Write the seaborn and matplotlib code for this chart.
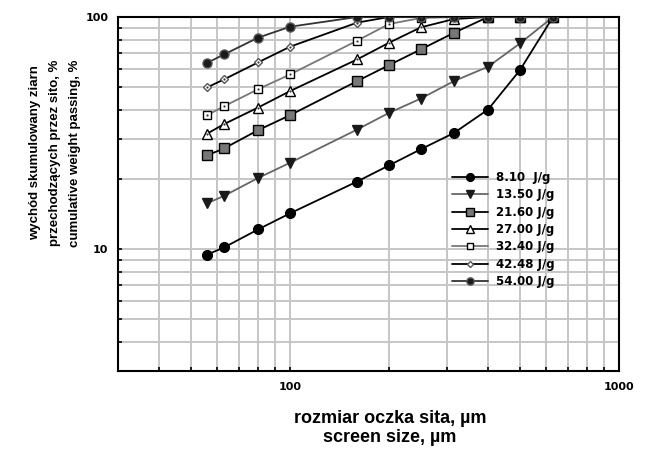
import matplotlib
matplotlib.use("Agg")
import matplotlib.pyplot as plt
import matplotlib.ticker as mticker
import pandas as pd
import seaborn as sns

sizes = [56, 63, 80, 100, 160, 200, 250, 315, 400, 500, 630]
labels = ["8.10  J/g", "13.50 J/g", "21.60 J/g", "27.00 J/g",
          "32.40 J/g", "42.48 J/g", "54.00 J/g"]

e_810 = [9.5, 10.2, 12.2, 14.3, 19.6, 23.0, 27.0, 31.7, 40.0, 59.1, 100]
e_1350 = [15.8, 17.0, 20.3, 23.6, 32.8, 38.7, 44.6, 53.0, 61.1, 77.0, 100]
e_2160 = [25.4, 27.2, 32.6, 37.8, 53.0, 62.1, 72.6, 85.5, 100, 100, 100]
e_2700 = [31.5, 34.6, 40.8, 48.0, 65.7, 77.5, 90.3, 98.0, 100, 100, 100]
e_3240 = [37.8, 41.3, 48.9, 56.6, 79.1, 93.3, 99.0, 100, 100, 100, 100]
e_4248 = [49.8, 53.9, 63.8, 74.5, 94.6, 100, 100, 100, 100, 100, 100]
e_5400 = [63.5, 69.0, 81.5, 90.8, 100, 100, 100, 100, 100, 100, 100]
series = [e_810, e_1350, e_2160, e_2700, e_3240, e_4248, e_5400]

# line colour, marker, face, edge, size, dot in the middle
styles = [
    ("black", "o", "black", "black", 7, False),
    ("#666666", "v", "#1a1a1a", "#1a1a1a", 7, False),
    ("black", "s", "#777777", "black", 6.5, False),
    ("black", "^", "white", "black", 6.5, True),
    ("#777777", "s", "white", "black", 6, True),
    ("black", "D", "white", "#555555", 3.8, True),
    ("#333333", "o", "#1a1a1a", "#555555", 6.5, False),
]

df = pd.DataFrame(
    [(s, v, lab) for lab, vals in zip(labels, series) for s, v in zip(sizes, vals)],
    columns=["size", "passing", "energy"],
)

sns.set_style("white")
plt.rcParams["font.family"] = ["Liberation Sans", "DejaVu Sans"]
plt.rcParams["text.color"] = "black"

fig = plt.figure(figsize=(6.45, 4.5), dpi=100)
ax = fig.add_axes([118 / 645, 1 - 371 / 450, 501 / 645, 354 / 450])

for lab, (lc, mk, mfc, mec, ms, dot) in zip(labels, styles):
    sub = df[df["energy"] == lab]
    sns.lineplot(data=sub, x="size", y="passing", ax=ax, color=lc, lw=1.3,
                 marker=mk, markersize=ms, markerfacecolor=mfc,
                 markeredgecolor=mec, markeredgewidth=1.0, label=lab,
                 zorder=3)
    if dot:
        sns.scatterplot(data=sub, x="size", y="passing", ax=ax, color="#333333",
                        s=2.5, marker="o", linewidth=0, zorder=4, legend=False)

ax.set_xscale("log")
ax.set_yscale("log")
ax.set_xlim(30, 1000)
ax.set_ylim(3, 100)

ax.xaxis.set_major_locator(mticker.FixedLocator([100, 1000]))
ax.xaxis.set_minor_locator(mticker.LogLocator(base=10, subs=range(2, 10)))
ax.yaxis.set_major_locator(mticker.FixedLocator([10, 100]))
ax.yaxis.set_minor_locator(mticker.LogLocator(base=10, subs=range(2, 10)))
ax.xaxis.set_major_formatter(mticker.FixedFormatter(["100", "1000"]))
ax.yaxis.set_major_formatter(mticker.FixedFormatter(["10", "100"]))
ax.xaxis.set_minor_formatter(mticker.NullFormatter())
ax.yaxis.set_minor_formatter(mticker.NullFormatter())

ax.grid(True, which="both", color="#c6c6c6", lw=1.4, zorder=0)
ax.set_axisbelow(True)
ax.tick_params(which="both", direction="in", length=3, width=1.2,
               color="black", bottom=True, left=True)
ax.tick_params(axis="x", which="major", pad=8)
ax.tick_params(axis="y", which="major", pad=7)
for t in ax.get_xticklabels() + ax.get_yticklabels():
    t.set_fontweight("bold")
    t.set_fontfamily("DejaVu Sans")
    t.set_fontsize(8)
    t.set_color("black")
for sp in ax.spines.values():
    sp.set_color("black")
    sp.set_linewidth(1.5)

ax.set_xlabel("")
ax.set_ylabel("")
fig.text(390 / 645, 1 - 428 / 450, "rozmiar oczka sita, µm\nscreen size, µm",
         ha="center", va="center", fontsize=13, fontweight="bold",
         linespacing=1.2)
fig.text(55 / 645, 1 - 153 / 450,
         "wychód skumulowany ziarn\nprzechodzących przez sito, %\ncumulative weight passing, %",
         ha="center", va="center", rotation=90, fontsize=9.5,
         fontweight="bold", linespacing=1.85)

leg = ax.legend(loc="upper left", bbox_to_anchor=(0.667, 0.565), frameon=False,
                handlelength=3.0, handletextpad=0.75, labelspacing=0.37,
                markerscale=0.8, borderpad=0, borderaxespad=0,
                prop={"weight": "bold", "size": 8.5, "family": "DejaVu Sans"})

fig.savefig("out.png", dpi=100)
plt.close(fig)
